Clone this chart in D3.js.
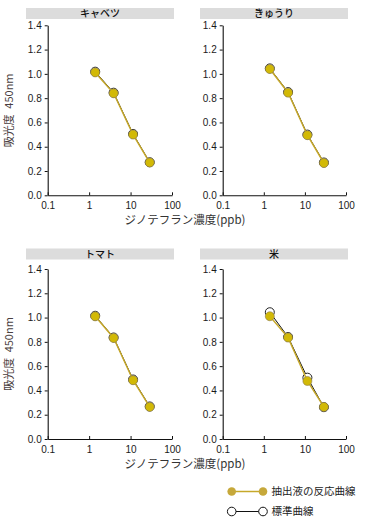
<!DOCTYPE html>
<html><head><meta charset="utf-8">
<script src="https://cdn.jsdelivr.net/npm/d3@7"></script>
<style>
body{margin:0;background:#fff;}
svg{display:block;}
</style></head>
<body>
<svg id="c" width="368" height="523"></svg>
<script>
const panelNames = ["キャベツ","きゅうり","トマト","米"];
const conc = [1.4, 3.9, 11.5, 29];
const extractVals = [
  [1.012, 0.84, 0.50, 0.27],
  [1.04, 0.845, 0.495, 0.266],
  [1.01, 0.832, 0.484, 0.264],
  [1.011, 0.835, 0.478, 0.264]
];
const standardVals = [
  [1.018, 0.845, 0.505, 0.272],
  [1.045, 0.85, 0.50, 0.27],
  [1.015, 0.836, 0.49, 0.268],
  [1.044, 0.84, 0.505, 0.262]
];
const yTicks = [0,0.2,0.4,0.6,0.8,1.0,1.2,1.4];
const xTicks = [0.1,1,10,100];
const xTickLabels = ["0.1","1","10","100"];
const yTitle = "吸光度\u2002450nm";
const xTitle = "ジノテフラン濃度(ppb)";
const legendLabels = ["抽出液の反応曲線","標準曲線"];

const svg = d3.select("#c");
const numFont = "'Liberation Sans', Arial, sans-serif";
const jpFont = "'Noto Sans CJK JP', sans-serif";
const yellowFill = "#d2b906";
const yellowLine = "#c6a82a";

const layout = [
  {x0:47.7, x1:172, y0:195.3, y1:25.3, tx0:26, tx1:174, ty:8},
  {x0:222.7, x1:346, y0:195.3, y1:25.3, tx0:200, tx1:348, ty:8},
  {x0:47.7, x1:172, y0:439, y1:269, tx0:26, tx1:174, ty:248.5},
  {x0:222.7, x1:346, y0:439, y1:269, tx0:200, tx1:348, ty:248.5}
];

panelNames.forEach((name, i) => {
  const L = layout[i];
  const g = svg.append("g");
  const x = d3.scaleLog().domain([0.1,100]).range([L.x0, L.x1]);
  const y = d3.scaleLinear().domain([0,1.4]).range([L.y0, L.y1]);

  g.append("rect").attr("x", L.tx0).attr("y", L.ty).attr("width", L.tx1-L.tx0).attr("height", 11)
    .attr("fill", "#dcdcdc");
  g.append("text").attr("x", (L.tx0+L.tx1)/2).attr("y", L.ty+9).attr("text-anchor","middle")
    .attr("font-family", jpFont).attr("font-size", 10).attr("font-weight","500").attr("fill","#111").text(name);

  const ya = g.append("g").attr("transform", `translate(${L.x0},0)`)
    .call(d3.axisLeft(y).tickValues(yTicks).tickFormat(d3.format(".1f")).tickSize(3).tickSizeOuter(0).tickPadding(3));
  ya.select(".domain").attr("stroke","#111").attr("stroke-width",1.1);
  ya.selectAll(".tick line").attr("stroke","#111");
  ya.selectAll("text").attr("font-family", numFont).attr("font-size", 10).attr("fill","#1a1a1a");

  const xa = g.append("g").attr("transform", `translate(0,${L.y0})`)
    .call(d3.axisBottom(x).tickValues(xTicks).tickFormat((d,j)=>xTickLabels[j]).tickSize(-3).tickSizeOuter(0).tickPadding(4));
  xa.select(".domain").attr("stroke","#111").attr("stroke-width",1.1);
  xa.selectAll(".tick line").attr("stroke","#111");
  xa.selectAll("text").attr("font-family", numFont).attr("font-size", 10).attr("fill","#1a1a1a").attr("dy","0.95em");

  const line = d3.line().x((d,j)=>x(conc[j])).y(d=>y(d));

  g.append("path").datum(standardVals[i]).attr("d", line).attr("fill","none").attr("stroke","#111").attr("stroke-width",1);
  g.selectAll(".std").data(standardVals[i]).enter().append("circle")
    .attr("cx",(d,j)=>x(conc[j])).attr("cy",d=>y(d)).attr("r",4.5)
    .attr("fill","#fff").attr("stroke","#222").attr("stroke-width",1);

  g.append("path").datum(extractVals[i]).attr("d", line).attr("fill","none").attr("stroke",yellowLine).attr("stroke-width",1.5);
  g.selectAll(".ext").data(extractVals[i]).enter().append("circle")
    .attr("cx",(d,j)=>x(conc[j])).attr("cy",d=>y(d)).attr("r",4.5)
    .attr("fill",yellowFill).attr("stroke","#8a7a50").attr("stroke-width",0.6);

  if (i % 2 === 0) {
    g.append("text").attr("transform", `translate(13,${(L.y0+L.y1)/2}) rotate(-90)`)
      .attr("text-anchor","middle").attr("font-family", jpFont).attr("font-size", 11).attr("fill","#4a4040")
      .text(yTitle);
    g.append("text").attr("x", 185).attr("y", L.y0+29).attr("text-anchor","middle")
      .attr("font-family", jpFont).attr("font-size", 11.5).attr("fill","#333").text(xTitle);
  }
});

const lg = svg.append("g");
const ly = [491.5, 511.5];
lg.append("line").attr("x1",231.7).attr("x2",263).attr("y1",ly[0]).attr("y2",ly[0]).attr("stroke",yellowLine).attr("stroke-width",1.5);
[231.7,263].forEach(cx=>lg.append("circle").attr("cx",cx).attr("cy",ly[0]).attr("r",4.3).attr("fill","#c6a83a"));
lg.append("line").attr("x1",231.7).attr("x2",263).attr("y1",ly[1]).attr("y2",ly[1]).attr("stroke","#111").attr("stroke-width",1);
[231.7,263].forEach(cx=>lg.append("circle").attr("cx",cx).attr("cy",ly[1]).attr("r",4.3).attr("fill","#fff").attr("stroke","#111").attr("stroke-width",1));
legendLabels.forEach((t,k)=>{
  lg.append("text").attr("x",271.5).attr("y",ly[k]+3.8).attr("font-family",jpFont).attr("font-size",10.5).attr("fill","#222").text(t);
});
</script>
</body></html>
